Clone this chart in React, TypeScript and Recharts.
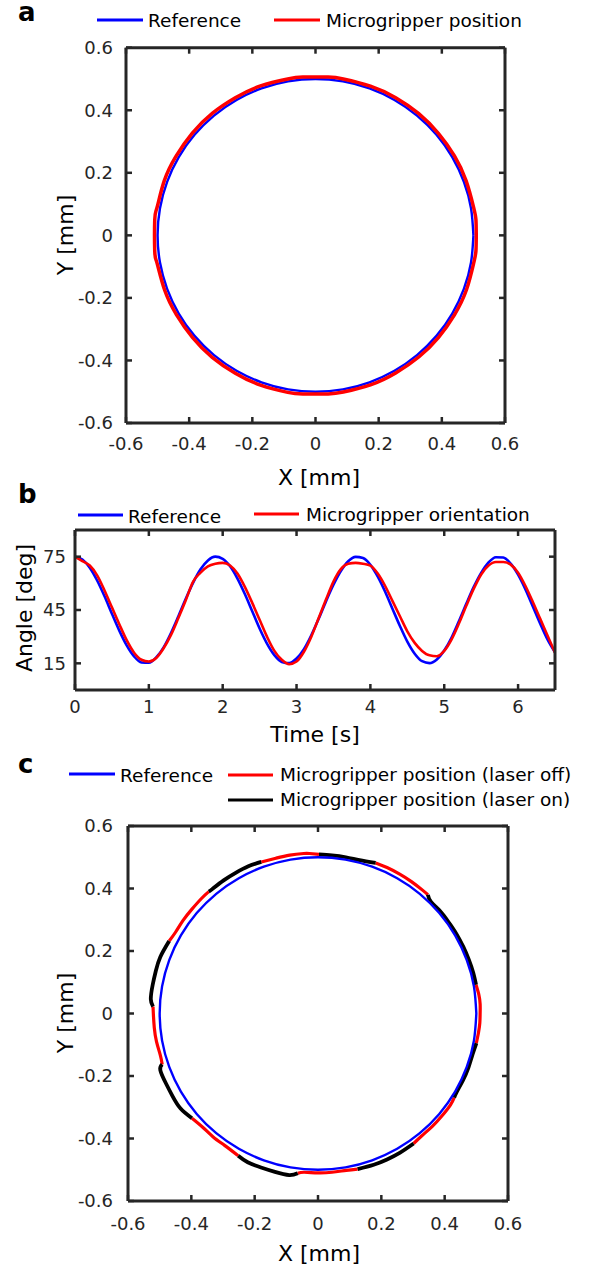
import { LineChart, Line, XAxis, YAxis } from 'recharts'

const FONT = '"DejaVu Sans", Verdana, sans-serif'
const AXIS = '#262626'
const BLUE = '#0000ff'
const RED = '#ff0000'
const BLACK = '#000000'

// ---- panel a / c : circular trajectory (mm) ----
const circleTicks = [-0.6, -0.4, -0.2, 0, 0.2, 0.4, 0.6]

const refCircle = [
  [0.5, 0], [0.4924, 0.0868], [0.4698, 0.171], [0.433, 0.25], [0.383, 0.3214],
  [0.3214, 0.383], [0.25, 0.433], [0.171, 0.4698], [0.0868, 0.4924], [0, 0.5],
  [-0.0868, 0.4924], [-0.171, 0.4698], [-0.25, 0.433], [-0.3214, 0.383], [-0.383, 0.3214],
  [-0.433, 0.25], [-0.4698, 0.171], [-0.4924, 0.0868], [-0.5, 0], [-0.4924, -0.0868],
  [-0.4698, -0.171], [-0.433, -0.25], [-0.383, -0.3214], [-0.3214, -0.383], [-0.25, -0.433],
  [-0.171, -0.4698], [-0.0868, -0.4924], [0, -0.5], [0.0868, -0.4924], [0.171, -0.4698],
  [0.25, -0.433], [0.3214, -0.383], [0.383, -0.3214], [0.433, -0.25], [0.4698, -0.171],
  [0.4924, -0.0868], [0.5, 0],
]

const gripperA = [
  [0.509, 0], [0.508, 0.05], [0.501, 0.088], [0.477, 0.174], [0.44, 0.254], [0.389, 0.326],
  [0.327, 0.389], [0.254, 0.44], [0.174, 0.477], [0.088, 0.5], [0.04, 0.506], [-0.04, 0.506],
  [-0.088, 0.5], [-0.174, 0.478], [-0.254, 0.44], [-0.327, 0.39], [-0.39, 0.327], [-0.441, 0.254],
  [-0.479, 0.174], [-0.502, 0.088], [-0.509, 0.05], [-0.509, -0.05], [-0.502, -0.088], [-0.478, -0.174],
  [-0.44, -0.254], [-0.389, -0.327], [-0.327, -0.39], [-0.254, -0.441], [-0.174, -0.479],
  [-0.088, -0.502], [-0.04, -0.507], [0.04, -0.507], [0.088, -0.501], [0.174, -0.478],
  [0.254, -0.44], [0.327, -0.389], [0.389, -0.327], [0.44, -0.254], [0.478, -0.174],
  [0.501, -0.088], [0.508, -0.05], [0.509, 0],
]

const laserOffC = [
  [[0.5, -0.095], [0.507, -0.06], [0.511, -0.03], [0.512, 0], [0.512, 0.03], [0.508, 0.06], [0.499, 0.092]],
  [[0.347, 0.38], [0.331, 0.394], [0.295, 0.422], [0.258, 0.446], [0.218, 0.467], [0.182, 0.482]],
  [[0.003, 0.509], [-0.027, 0.512], [-0.045, 0.512], [-0.089, 0.507], [-0.133, 0.497], [-0.179, 0.485]],
  [[-0.345, 0.39], [-0.368, 0.368], [-0.398, 0.334], [-0.426, 0.298], [-0.45, 0.26], [-0.47, 0.232]],
  [[-0.521, 0.022], [-0.52, 0], [-0.517, -0.045], [-0.51, -0.09], [-0.498, -0.133], [-0.492, -0.163]],
  [[-0.398, -0.335], [-0.364, -0.364], [-0.331, -0.395], [-0.295, -0.422], [-0.252, -0.455]],
  [[-0.064, -0.511], [-0.044, -0.508], [0, -0.51], [0.044, -0.508], [0.089, -0.502], [0.125, -0.498]],
  [[0.302, -0.416], [0.328, -0.391], [0.361, -0.361], [0.391, -0.328], [0.418, -0.293], [0.43, -0.269]],
]

const laserOnC = [
  [[0.499, 0.092], [0.49, 0.131], [0.476, 0.173], [0.459, 0.213], [0.438, 0.253], [0.414, 0.29], [0.388, 0.325], [0.357, 0.357], [0.347, 0.38]],
  [[0.182, 0.482], [0.131, 0.491], [0.088, 0.5], [0.044, 0.506], [0.003, 0.509]],
  [[-0.179, 0.485], [-0.22, 0.471], [-0.26, 0.45], [-0.298, 0.426], [-0.334, 0.398], [-0.345, 0.39]],
  [[-0.47, 0.232], [-0.498, 0.181], [-0.512, 0.137], [-0.522, 0.092], [-0.528, 0.046], [-0.521, 0.022]],
  [[-0.492, -0.163], [-0.498, -0.181], [-0.48, -0.224], [-0.459, -0.265], [-0.434, -0.304], [-0.398, -0.335]],
  [[-0.252, -0.455], [-0.222, -0.476], [-0.18, -0.493], [-0.136, -0.507], [-0.091, -0.517], [-0.064, -0.511]],
  [[0.125, -0.498], [0.176, -0.484], [0.218, -0.467], [0.258, -0.446], [0.302, -0.416]],
  [[0.43, -0.269], [0.437, -0.253], [0.458, -0.213], [0.475, -0.173], [0.488, -0.131], [0.5, -0.095]],
]

// ---- panel b : orientation over time ----
const timeTicks = [0, 1, 2, 3, 4, 5, 6]
const angleTicks = [15, 45, 75]
const time = [
  0, 0.1, 0.2, 0.3, 0.4, 0.5, 0.6, 0.7, 0.8, 0.9, 1, 1.1, 1.2, 1.3, 1.4, 1.5, 1.6, 1.7, 1.8, 1.9,
  2, 2.1, 2.2, 2.3, 2.4, 2.5, 2.6, 2.7, 2.8, 2.9, 3, 3.1, 3.2, 3.3, 3.4, 3.5, 3.6, 3.7, 3.8, 3.9,
  4, 4.1, 4.2, 4.3, 4.4, 4.5, 4.6, 4.7, 4.8, 4.9, 5, 5.1, 5.2, 5.3, 5.4, 5.5, 5.6, 5.7, 5.8, 5.9,
  6, 6.1, 6.2, 6.3, 6.4, 6.5,
]
const refAngle = [
  75, 73.4, 68.8, 61.6, 52.7, 42.9, 33.4, 25.1, 18.9, 15.5, 15.3, 18.3, 24, 32.1, 41.5, 51.3, 60.4, 67.9, 72.9, 75,
  73.8, 69.6, 62.7, 54, 44.3, 34.6, 26.1, 19.6, 15.8, 15.1, 17.7, 23, 30.8, 40.1, 50, 59.2, 66.9, 72.4, 74.9, 74.2,
  70.4, 63.8, 55.3, 45.6, 36, 27.2, 20.4, 16.2, 15.1, 17.2, 22.2, 29.5, 38.8, 48.6, 58, 65.9, 71.8, 74.7, 74.5, 71.1,
  64.9, 56.6, 47, 37.3, 28.3, 21.2,
]
const gripperAngle = [
  75, 72.5, 70, 64.5, 56, 46.5, 37, 28, 21, 17, 16, 18, 23.5, 31, 40.5, 50.5, 61, 66, 69.5, 71,
  71.5, 70, 65.5, 58, 49, 39.5, 30, 22, 17, 14.5, 16, 21.5, 30, 40.5, 51, 61, 68, 71, 71.5, 71,
  70, 65.5, 58.5, 50, 41.5, 33, 26.5, 22, 19.5, 19, 22, 28.5, 37.5, 47.5, 57, 65, 70, 72, 72, 70.5,
  66, 58.5, 49.5, 40, 30.5, 21,
]

const toPts = (pairs: number[][]) => pairs.map(([x, y]) => ({ x, y }))
const angleRows = time.map((t, i) => ({ t, ref: refAngle[i], grip: gripperAngle[i] }))

const tickFont = { fill: AXIS, fontSize: 18, fontFamily: FONT }
const axisLine = { stroke: AXIS, strokeWidth: 3 }
const tickLine = { stroke: AXIS, strokeWidth: 2.5 }
const blank = () => ''

// box with inward ticks on all four sides, MATLAB style
function frame(
  key: string,
  xKey: string,
  xDomain: number[],
  xTicks: number[],
  yDomain: number[],
  yTicks: number[],
  xGap: number,
  yGap: number,
) {
  const common = { axisLine, tickLine, tickSize: -6, allowDataOverflow: true, interval: 0 as const }
  return [
    <XAxis key={key + 'xb'} type="number" dataKey={xKey} domain={xDomain} ticks={xTicks}
      height={50} tickMargin={xGap} tick={tickFont} {...common} />,
    <XAxis key={key + 'xt'} xAxisId="top" orientation="top" type="number" dataKey={xKey}
      domain={xDomain} ticks={xTicks} height={10} tickFormatter={blank} tick={tickFont} {...common} />,
    <YAxis key={key + 'yl'} type="number" domain={yDomain} ticks={yTicks}
      width={60} tickMargin={yGap} tick={tickFont} {...common} />,
    <YAxis key={key + 'yr'} yAxisId="right" orientation="right" type="number" domain={yDomain}
      ticks={yTicks} width={10} tickFormatter={blank} tick={tickFont} {...common} />,
  ]
}

const trace = (key: string, pts: number[][], color: string, w: number) => (
  <Line key={key} data={toPts(pts)} dataKey="y" type="natural" stroke={color} strokeWidth={w}
    strokeLinejoin="round" dot={false} activeDot={false} isAnimationActive={false} />
)

const legendText = { fontFamily: FONT, fontSize: 18.5, fill: '#000' }
const axisText = { fontFamily: FONT, fontSize: 22, fill: '#000' }
const letter = { fontFamily: FONT, fontSize: 26, fontWeight: 700, fill: '#000' }

export default function App() {
  return (
    <div style={{ position: 'absolute', left: 0, top: 0, width: 594, height: 1270, background: '#fff' }}>
      {/* a */}
      <div style={{ position: 'absolute', left: 0, top: 0 }}>
        <LineChart width={594} height={500} margin={{ top: 37.7, right: 79, bottom: 27, left: 66 }}>
          {frame('a', 'x', [-0.6, 0.6], circleTicks, [-0.6, 0.6], circleTicks, 20, 19)}
          {trace('aref', refCircle, BLUE, 2.4)}
          {trace('agrip', gripperA, RED, 3.5)}
        </LineChart>
      </div>

      {/* b */}
      <div style={{ position: 'absolute', left: 0, top: 460 }}>
        <LineChart width={594} height={300} data={angleRows}
          margin={{ top: 60, right: 29, bottom: 20, left: 15 }}>
          {frame('b', 't', [0, 6.5], timeTicks, [0, 90], angleTicks, 16.5, 15)}
          <Line dataKey="ref" type="monotone" stroke={BLUE} strokeWidth={2.6} dot={false}
            activeDot={false} isAnimationActive={false} />
          <Line dataKey="grip" type="monotone" stroke={RED} strokeWidth={2.6} dot={false}
            activeDot={false} isAnimationActive={false} />
        </LineChart>
      </div>

      {/* c */}
      <div style={{ position: 'absolute', left: 0, top: 740 }}>
        <LineChart width={594} height={530} margin={{ top: 76, right: 76, bottom: 19, left: 68 }}>
          {frame('c', 'x', [-0.6, 0.6], circleTicks, [-0.6, 0.6], circleTicks, 22, 21)}
          {laserOffC.map((seg, i) => trace('coff' + i, seg, RED, 3.2))}
          {laserOnC.map((seg, i) => trace('con' + i, seg, BLACK, 3.8))}
          {trace('cref', refCircle, BLUE, 2.4)}
        </LineChart>
      </div>

      {/* legends, axis titles, panel letters */}
      <svg width={594} height={1270} style={{ position: 'absolute', left: 0, top: 0, pointerEvents: 'none' }}>
        <text x={18} y={21} style={letter}>a</text>
        <line x1={97} x2={143} y1={20} y2={20} stroke={BLUE} strokeWidth={3} />
        <text x={148} y={27} style={legendText}>Reference</text>
        <line x1={274} x2={320} y1={20} y2={20} stroke={RED} strokeWidth={3} />
        <text x={326} y={27} style={legendText}>Microgripper position</text>
        <text x={319} y={485} textAnchor="middle" style={axisText}>X [mm]</text>
        <text transform="translate(73,235) rotate(-90)" textAnchor="middle" style={axisText}>Y [mm]</text>

        <text x={18} y={503} style={letter}>b</text>
        <line x1={78} x2={123} y1={515} y2={515} stroke={BLUE} strokeWidth={3} />
        <text x={128} y={523} style={legendText}>Reference</text>
        <line x1={254} x2={299} y1={514} y2={514} stroke={RED} strokeWidth={3} />
        <text x={306} y={521} style={legendText}>Microgripper orientation</text>
        <text x={315} y={742} textAnchor="middle" style={axisText}>Time [s]</text>
        <text transform="translate(32,608) rotate(-90)" textAnchor="middle" style={axisText}>Angle [deg]</text>

        <text x={18} y={773} style={letter}>c</text>
        <line x1={69} x2={115} y1={774} y2={774} stroke={BLUE} strokeWidth={3} />
        <text x={120} y={782} style={legendText}>Reference</text>
        <line x1={228} x2={273} y1={775} y2={775} stroke={RED} strokeWidth={3} />
        <text x={280} y={781} style={legendText}>Microgripper position (laser off)</text>
        <line x1={228} x2={273} y1={800} y2={800} stroke={BLACK} strokeWidth={3} />
        <text x={280} y={806} style={legendText}>Microgripper position (laser on)</text>
        <text x={319} y={1261} textAnchor="middle" style={axisText}>X [mm]</text>
        <text transform="translate(73,1013) rotate(-90)" textAnchor="middle" style={axisText}>Y [mm]</text>
      </svg>
    </div>
  )
}
